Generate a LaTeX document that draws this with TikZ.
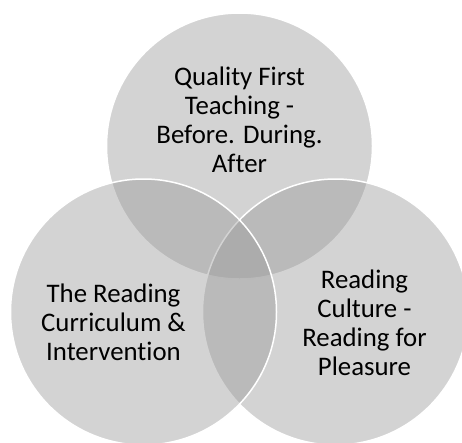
\documentclass[tikz,border=0pt]{standalone}
\usepackage{fontspec}
\setmainfont[Ligatures=NoCommon]{Carlito}
\begin{document}
\begin{tikzpicture}[x=1pt,y=-1pt,
  venn/.style={circle, minimum size=266pt, inner sep=0pt, fill=black!40, fill opacity=0.43, draw=white, line width=1.5pt},
  lbl/.style={align=center, font=\fontsize{26.8}{28.9}\selectfont, text=black, inner sep=0pt}]
\useasboundingbox (0,0) rectangle (462,442);
\node[venn] (ctop) at (239.5,146) {};
\node[venn] (cright) at (335.5,312) {};
\node[venn] (cleft) at (143.5,312) {};
\node[lbl] (ttop) at (239.5,120) {Quality First\\Teaching -\\Before. During.\\After};
\node[lbl] (tleft) at (113.5,322) {The Reading\\Curriculum \&\\Intervention};
\node[lbl] (tright) at (364.5,323) {Reading\\Culture -\\Reading for\\Pleasure};
\end{tikzpicture}
\end{document}
